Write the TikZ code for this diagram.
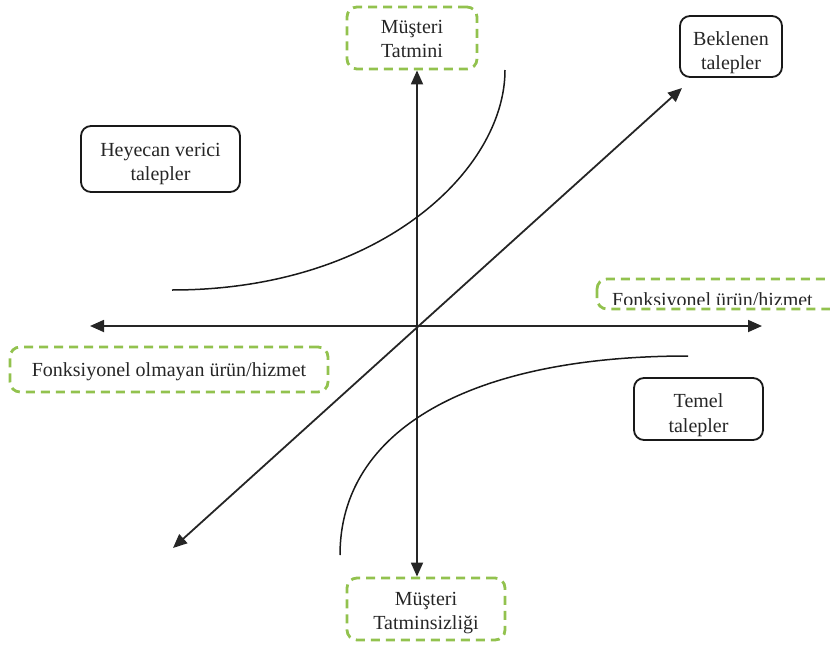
\documentclass[tikz,border=0pt]{standalone}
\usepackage{fontspec}
\setmainfont{Liberation Serif}
\usetikzlibrary{arrows.meta,positioning}

\definecolor{kanogreen}{RGB}{146,194,78}

\begin{document}
\begin{tikzpicture}[
	x=1pt, y=-1pt,
	every node/.style={
		align=center,
		inner sep=0pt,
		text=black!85,
		font=\fontsize{20}{24.5}\selectfont
	},
	eksen/.style={line width=1.8pt, black!85, {Triangle[length=14pt,width=12pt]}-{Triangle[length=14pt,width=12pt]}},
	egri/.style={line width=1.5pt, black!90},
	yesilkutu/.style={draw=kanogreen, line width=2.8pt, dash pattern=on 9pt off 6pt, rounded corners=10pt},
	talepkutu/.style={draw=black!90, line width=1.8pt, rounded corners=10pt}
]
\useasboundingbox (0,0) rectangle (830,645);

% kutular
\node[yesilkutu, minimum width=130pt, minimum height=62pt] (tatmin) at (412,38) {};
\node[yesilkutu, minimum width=158pt, minimum height=62pt] (tatminsiz) at (426,609) {};
\node[yesilkutu, minimum width=318pt, minimum height=45pt] (olmayan) at (169,369.5) {};
\node[talepkutu, minimum width=102pt, minimum height=61pt] (beklenen) at (731,46.5) {};
\node[talepkutu, minimum width=159pt, minimum height=66pt] (heyecan) at (160.5,159) {};
\node[talepkutu, minimum width=129pt, minimum height=62pt] (temel) at (698.5,409) {};

% yazilar
\node (tatminyazi) at ([yshift=-1pt]tatmin.center) {Müşteri\\Tatmini};
\node (tatminsizyazi) at ([yshift=-4pt]tatminsiz.center) {Müşteri\\Tatminsizliği};
\node (olmayanyazi) at ([yshift=-2pt]olmayan.center) {Fonksiyonel olmayan ürün/hizmet};
\node (beklenenyazi) at ([yshift=-6pt]beklenen.center) {Beklenen\\talepler};
\node (heyecanyazi) at ([yshift=-5pt]heyecan.center) {Heyecan verici\\talepler};
\node (temelyazi) at ([yshift=-6pt]temel.center) {Temel\\talepler};

% kesilen kutu (sag kenar)
\draw[yesilkutu] (597,279) rectangle (850,309);
\begin{scope}
	\clip (590,270) rectangle (830,304);
	\node[anchor=base west] (fonk) at (612,306) {Fonksiyonel ürün/hizmet};
\end{scope}

% eksenler
\coordinate (O) at (417,326);
\coordinate (sol) at (90,326);
\coordinate (sag) at (762,326);
\coordinate (altsol) at (173,548);
\coordinate (ustsag) at (682,88);
\draw[eksen] (O |- tatmin.south) -- (O |- tatminsiz.north);
\draw[eksen] (sol) -- (sag);
\draw[eksen] (altsol) -- (ustsag);

% egriler
\coordinate (h1) at (172,290);
\coordinate (h2) at (505,70);
\coordinate (t1) at (340,555);
\coordinate (t2) at (688,356);
\draw[egri] (h1) .. controls (380,290) and (505,170) .. (h2);
\draw[egri] (t1) .. controls (340,430) and (470,356) .. (t2);

\end{tikzpicture}
\end{document}
